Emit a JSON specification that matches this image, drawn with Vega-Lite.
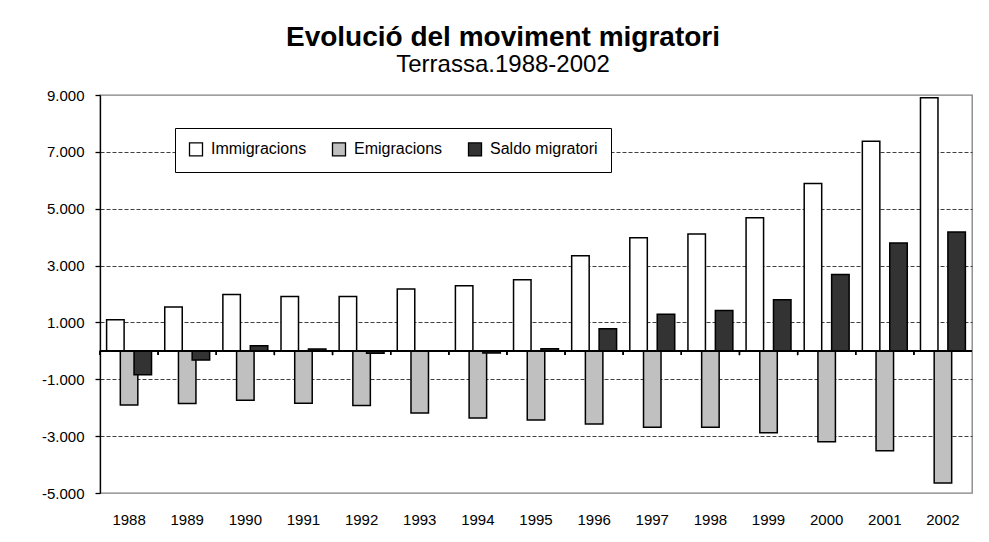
{
  "$schema": "https://vega.github.io/schema/vega-lite/v6.json",
  "autosize": {"type": "none"},
  "width": 872,
  "height": 398,
  "padding": {"left": 100, "top": 95, "right": 17, "bottom": 49},
  "background": "white",
  "title": {
    "text": "Evolució del moviment migratori",
    "subtitle": "Terrassa.1988-2002",
    "anchor": "middle",
    "dx": -33,
    "offset": 11,
    "font": "Liberation Sans",
    "fontSize": 28,
    "fontWeight": "bold",
    "color": "black",
    "subtitleFont": "Liberation Sans",
    "subtitleFontSize": 24,
    "subtitleColor": "black",
    "subtitlePadding": 1
  },
  "data": {
    "values": [
      {"year": "1988", "serie": "Immigracions", "value": 1090},
      {"year": "1988", "serie": "Emigracions", "value": -1905},
      {"year": "1988", "serie": "Saldo migratori", "value": -840},
      {"year": "1989", "serie": "Immigracions", "value": 1540},
      {"year": "1989", "serie": "Emigracions", "value": -1850},
      {"year": "1989", "serie": "Saldo migratori", "value": -325},
      {"year": "1990", "serie": "Immigracions", "value": 1980},
      {"year": "1990", "serie": "Emigracions", "value": -1740},
      {"year": "1990", "serie": "Saldo migratori", "value": 180},
      {"year": "1991", "serie": "Immigracions", "value": 1910},
      {"year": "1991", "serie": "Emigracions", "value": -1840},
      {"year": "1991", "serie": "Saldo migratori", "value": 65},
      {"year": "1992", "serie": "Immigracions", "value": 1910},
      {"year": "1992", "serie": "Emigracions", "value": -1920},
      {"year": "1992", "serie": "Saldo migratori", "value": -80},
      {"year": "1993", "serie": "Immigracions", "value": 2180},
      {"year": "1993", "serie": "Emigracions", "value": -2190},
      {"year": "1993", "serie": "Saldo migratori", "value": -10},
      {"year": "1994", "serie": "Immigracions", "value": 2290},
      {"year": "1994", "serie": "Emigracions", "value": -2365},
      {"year": "1994", "serie": "Saldo migratori", "value": -75},
      {"year": "1995", "serie": "Immigracions", "value": 2500},
      {"year": "1995", "serie": "Emigracions", "value": -2435},
      {"year": "1995", "serie": "Saldo migratori", "value": 70},
      {"year": "1996", "serie": "Immigracions", "value": 3345},
      {"year": "1996", "serie": "Emigracions", "value": -2570},
      {"year": "1996", "serie": "Saldo migratori", "value": 775},
      {"year": "1997", "serie": "Immigracions", "value": 3980},
      {"year": "1997", "serie": "Emigracions", "value": -2690},
      {"year": "1997", "serie": "Saldo migratori", "value": 1290},
      {"year": "1998", "serie": "Immigracions", "value": 4110},
      {"year": "1998", "serie": "Emigracions", "value": -2690},
      {"year": "1998", "serie": "Saldo migratori", "value": 1420},
      {"year": "1999", "serie": "Immigracions", "value": 4680},
      {"year": "1999", "serie": "Emigracions", "value": -2880},
      {"year": "1999", "serie": "Saldo migratori", "value": 1800},
      {"year": "2000", "serie": "Immigracions", "value": 5890},
      {"year": "2000", "serie": "Emigracions", "value": -3200},
      {"year": "2000", "serie": "Saldo migratori", "value": 2690},
      {"year": "2001", "serie": "Immigracions", "value": 7370},
      {"year": "2001", "serie": "Emigracions", "value": -3515},
      {"year": "2001", "serie": "Saldo migratori", "value": 3790},
      {"year": "2002", "serie": "Immigracions", "value": 8900},
      {"year": "2002", "serie": "Emigracions", "value": -4650},
      {"year": "2002", "serie": "Saldo migratori", "value": 4180}
    ]
  },
  "layer": [
    {
      "mark": {"type": "bar", "stroke": "black", "strokeWidth": 1.5, "width": 17.5},
      "encoding": {
        "x": {
          "field": "year", "type": "nominal",
          "scale": {"paddingInner": 0, "paddingOuter": 0},
          "axis": {
            "title": null, "ticks": false, "tickSize": 0, "domain": false, "labelAngle": 0,
            "labelPadding": 19, "labelBaseline": "top",
            "labelFont": "Liberation Sans", "labelFontSize": 15, "labelColor": "black"
          }
        },
        "xOffset": {
          "field": "serie", "type": "nominal",
          "sort": ["Immigracions", "Emigracions", "Saldo migratori"],
          "scale": {"paddingInner": 0, "paddingOuter": 0.62}
        },
        "y": {
          "field": "value", "type": "quantitative",
          "scale": {"domain": [-5000, 9000], "nice": false, "zero": false},
          "axis": {
            "title": null,
            "values": [-5000, -3000, -1000, 1000, 3000, 5000, 7000, 9000],
            "labelExpr": "(datum.value < 0 ? '-' : '') + replace(format(abs(datum.value), ','), ',', '.')",
            "labelFont": "Liberation Sans", "labelFontSize": 15, "labelColor": "black",
            "labelPadding": 11,
            "tickSize": 5, "tickColor": "black", "tickWidth": 1.3,
            "domainColor": "black", "domainWidth": 1.3,
            "grid": true, "gridColor": "#404040", "gridDash": [4, 2], "gridWidth": 1,
            "gridOpacity": {"condition": {"test": "datum.value === -5000 || datum.value === 9000", "value": 0}, "value": 1}
          }
        },
        "color": {
          "field": "serie", "type": "nominal",
          "sort": ["Immigracions", "Emigracions", "Saldo migratori"],
          "scale": {"domain": ["Immigracions", "Emigracions", "Saldo migratori"], "range": ["#FFFFFF", "#C0C0C0", "#333333"]},
          "legend": {
            "title": null,
            "orient": "none",
            "legendX": 75,
            "legendY": 33,
            "direction": "horizontal",
            "symbolType": "square",
            "symbolSize": 169,
            "symbolStrokeColor": "black",
            "symbolStrokeWidth": 1.3,
            "labelFont": "Liberation Sans",
            "labelFontSize": 16,
            "labelColor": "black",
            "labelOffset": 7,
            "columnPadding": 22,
            "strokeColor": "black",
            "fillColor": "white",
            "padding": 13
          }
        }
      }
    },
    {
      "mark": {"type": "rule", "color": "black", "strokeWidth": 1.3},
      "encoding": {"y": {"datum": 0, "type": "quantitative"}}
    },
    {
      "mark": {"type": "rule", "color": "black", "strokeWidth": 1.3},
      "encoding": {
        "x": {"field": "year", "type": "nominal", "bandPosition": 0},
        "y": {"datum": 0, "type": "quantitative"},
        "y2": {"datum": -150}
      }
    }
  ],
  "config": {
    "view": {"stroke": "#808080", "strokeWidth": 1.3}
  }
}
